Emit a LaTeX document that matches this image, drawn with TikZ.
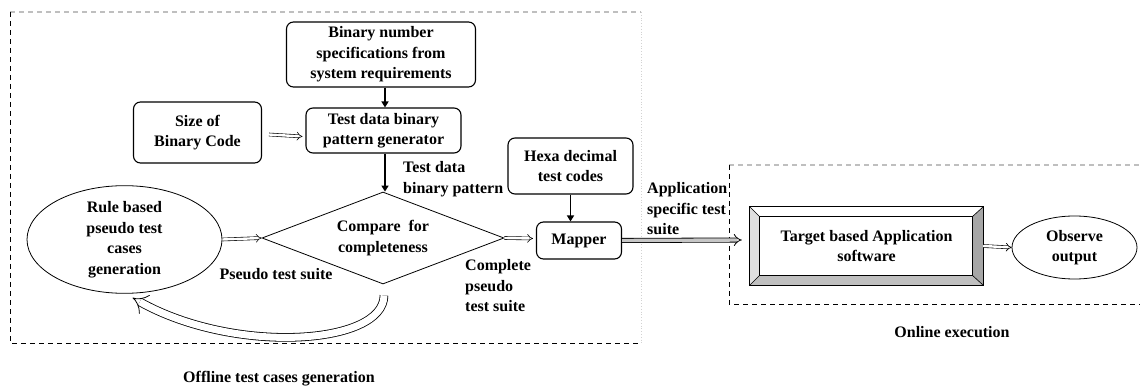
\documentclass[tikz,border=0pt]{standalone}
\usepackage{fontspec}
\setmainfont{Liberation Serif}
\usetikzlibrary{arrows.meta,shapes.geometric,calc}
\tikzset{
  txt/.style={font=\fontsize{16}{20.5}\selectfont\bfseries, inner sep=0pt, align=center},
  rbox/.style={txt, draw, rounded corners=7pt, line width=1.1pt},
  lbl/.style={txt, align=left, anchor=west},
  solidarrow/.style={line width=1.8pt, -{Triangle[length=6pt,width=7pt]}},
  hollow/.style={double, double distance=2.4pt, line width=0.6pt, -{Implies}},
  bigarrow/.style={double=gray!45, double distance=3.4pt, line width=0.8pt, -{Implies}},
  darkdash/.style={dashed, dash pattern=on 5pt off 4pt, line width=0.9pt},
  lightdash/.style={dash pattern=on 5pt off 4pt, line width=1.2pt, gray!50},
}
\begin{document}
\begin{tikzpicture}[x=1pt,y=-1pt]
\useasboundingbox (0,0) rectangle (1140,387);

% group boxes
\coordinate (offTL) at (10,12);
\coordinate (offBR) at (641,343);
\draw[lightdash] (offTL) -- (offBR |- offTL);
\draw[dotted, gray!35, line width=0.8pt] (offBR |- offTL) -- (offBR);
\draw[darkdash] (offTL) -- (offTL |- offBR) -- (offBR);
\coordinate (onTL) at (729,165);
\coordinate (onBR) at (1140,304);
\draw[lightdash] (onTL) -- (onBR |- onTL);
\draw[darkdash] (onTL) -- (onTL |- onBR) -- (onBR);

% nodes
\node[rbox, minimum width=189pt, minimum height=65pt] (spec) at (381,54.5)
  {Binary number\\specifications from\\system requirements};
\node[rbox, minimum width=155pt, minimum height=45pt] (gen) at (383.5,130.5)
  {Test data binary\\pattern generator};
\node[rbox, minimum width=128pt, minimum height=61pt] (size) at (197.5,132.5)
  {Size of\\Binary Code};
\node[txt, draw, diamond, aspect=2.6, line width=0.8pt, minimum width=242pt, minimum height=92pt] (cmp) at (383,238)
  {Compare\ \ for\\completeness};
\node[txt, draw, ellipse, line width=0.8pt, minimum width=195pt, minimum height=107pt] (rule) at (124.5,239.5)
  {Rule based\\pseudo test\\cases\\generation};
\node[rbox, minimum width=125pt, minimum height=56pt] (hexa) at (570.5,166)
  {Hexa decimal\\test codes};
\node[rbox, minimum width=85pt, minimum height=37pt] (map) at (579,240.5) {Mapper};

% target bevelled box
\node[txt, minimum width=233pt, minimum height=78pt] (tgt) at (866.5,246) {};
\coordinate (o1) at (tgt.north west);
\coordinate (o2) at (tgt.north east);
\coordinate (o3) at (tgt.south east);
\coordinate (o4) at (tgt.south west);
\coordinate (i1) at ($(o1)+(10,10)$);
\coordinate (i2) at ($(o2)+(-11,10)$);
\coordinate (i3) at ($(o3)+(-11,-10)$);
\coordinate (i4) at ($(o4)+(10,-10)$);
\fill[white] (o1) -- (o2) -- (i2) -- (i1) -- cycle;
\fill[gray!25] (o1) -- (i1) -- (i4) -- (o4) -- cycle;
\fill[gray!50] (o4) -- (i4) -- (i3) -- (o3) -- cycle;
\fill[gray!70] (o2) -- (o3) -- (i3) -- (i2) -- cycle;
\draw[line width=1.1pt] (o1) rectangle (o3);
\draw[line width=0.9pt] (i1) rectangle (i3);
\draw[line width=0.6pt] (o1) -- (i1) (o2) -- (i2) (o3) -- (i3) (o4) -- (i4);
\node[txt] at (tgt.center) {Target based Application\\software};

\node[txt, draw, ellipse, line width=0.8pt, minimum width=125pt, minimum height=63pt] (obs) at (1074.5,247.5)
  {Observe\\output};

% labels
\node[lbl] (lpat) at (403,179) {Test data\\binary pattern};
\node[lbl] (lcps) at (465,286) {Complete\\pseudo\\test suite};
\node[lbl] (lapp) at (647,209) {Application\\specific test\\suite};
\node[txt] (lpts) at (276,274) {Pseudo test suite};
\node[txt] (loff) at (279,379) {Offline test cases generation};
\node[txt] (lon) at (952,332) {Online execution};

% connectors
\coordinate (s1) at ($(spec.south)+(4,0)$);
\coordinate (s2) at ($(gen.south)+(1.5,0)$);
\draw[solidarrow] (s1) -- (s1 |- gen.north);
\draw[solidarrow] (s2) -- (s2 |- cmp.north);
\draw[solidarrow] (hexa.south) -- (hexa.south |- map.north);
\coordinate (h1) at ($(size.east)+(7,2)$);
\coordinate (h2) at ($(gen.west)+(-3,6)$);
\draw[hollow] (h1) -- (h2);
\draw[hollow] (rule.east) -- (cmp.west);
\draw[hollow] (cmp.east) -- ($(map.west)+(-3,-2)$);
\draw[bigarrow] (map.east) -- ($(tgt.west)+(-8,-6)$);
\draw[hollow] (tgt.east) -- (obs.west);
\coordinate (cs) at ($(cmp.south)+(1,11)$);
\coordinate (ce) at ($(rule.south)+(8,4)$);
\draw[double, double distance=7pt, line width=0.8pt, -{Implies}] (cs) .. controls (384,345) and (235,355) .. (ce);
\end{tikzpicture}
\end{document}
